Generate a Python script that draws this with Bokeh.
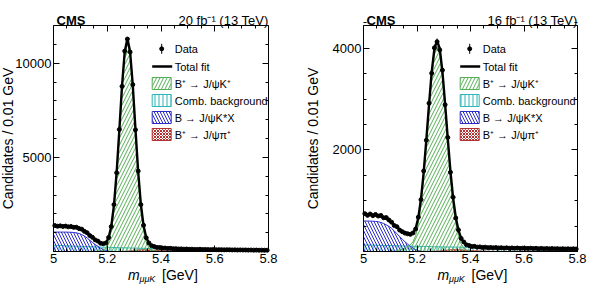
import math

from bokeh.core.properties import value
from bokeh.embed import file_html
from bokeh.layouts import row
from bokeh.models import CustomJSTickFormatter, FixedTicker, LinearAxis, Range1d
from bokeh.plotting import figure
from bokeh.resources import INLINE

# ---------------------------------------------------------------------------
# Binning: m(mu mu K) from 5.0 to 5.8 GeV in 0.01 GeV bins
# ---------------------------------------------------------------------------
MASS_LO, MASS_HI, BIN_W, N_BINS = 5.0, 5.8, 0.01, 80
centers = [MASS_LO + BIN_W * (i + 0.5) for i in range(N_BINS)]

x_ticks = [5.0, 5.2, 5.4, 5.6, 5.8]
x_minor = [5.05, 5.1, 5.15, 5.25, 5.3, 5.35, 5.45, 5.5, 5.55, 5.65, 5.7, 5.75]

legend_labels = ["Data", "Total fit", "B\u207a \u2192 J/\u03c8K\u207a", "Comb. background",
                 "B   \u2192 J/\u03c8K*X", "B\u207a \u2192 J/\u03c8\u03c0\u207a"]
y_title = "Candidates / 0.01 GeV"

# ---------------------------------------------------------------------------
# 2016-like sample (20 fb-1): candidates per bin
# ---------------------------------------------------------------------------
lumi_a = "20 fb\u207b\u00b9 (13 TeV)"
data_a = [
    1378, 1342, 1361, 1330, 1349, 1309, 1327, 1281, 1288, 1219,
    1185, 1070, 997, 846, 752, 617, 552, 441, 412, 452,
    741, 1322, 2490, 4180, 6480, 8770, 10640, 11280, 10590, 8860,
    6460, 4270, 2490, 1395, 731, 452, 307, 262, 219, 211,
    184, 183, 162, 167, 147, 151, 134, 139, 125, 131,
    117, 122, 111, 109, 117, 104, 108, 101, 99, 106,
    94, 97, 95, 88, 93, 91, 84, 87, 80, 85,
    78, 81, 74, 79, 72, 75, 68, 72, 66, 69,
]
comb_a = [
    330, 323, 317, 311, 304, 298, 292, 286, 281, 275,
    270, 264, 259, 254, 249, 244, 239, 234, 229, 225,
    220, 216, 212, 207, 203, 199, 195, 191, 188, 184,
    180, 177, 173, 170, 166, 163, 160, 156, 153, 150,
    147, 144, 141, 139, 136, 133, 130, 128, 125, 123,
    120, 118, 115, 113, 111, 109, 106, 104, 102, 100,
    98, 96, 94, 92, 91, 89, 87, 85, 84, 82,
    80, 79, 77, 76, 74, 73, 71, 70, 68, 67,
]
kstar_a = [
    1030, 1030, 1030, 1030, 1028, 1025, 1020, 1010, 990, 955,
    900, 820, 720, 600, 480, 370, 280, 180, 100, 45,
    15, 5, 1, 0, 0, 0, 0, 0, 0, 0,
    0, 0, 0, 0, 0, 0, 0, 0, 0, 0,
    0, 0, 0, 0, 0, 0, 0, 0, 0, 0,
    0, 0, 0, 0, 0, 0, 0, 0, 0, 0,
    0, 0, 0, 0, 0, 0, 0, 0, 0, 0,
    0, 0, 0, 0, 0, 0, 0, 0, 0, 0,
]
pi_a = [
    0, 0, 0, 0, 0, 0, 0, 0, 0, 0,
    0, 0, 0, 0, 0, 0, 0, 0, 0, 0,
    0, 0, 0, 0, 0, 5, 10, 18, 30, 45,
    60, 75, 85, 90, 88, 82, 74, 65, 56, 48,
    40, 33, 27, 22, 17, 13, 10, 7, 5, 3,
    2, 0, 0, 0, 0, 0, 0, 0, 0, 0,
    0, 0, 0, 0, 0, 0, 0, 0, 0, 0,
    0, 0, 0, 0, 0, 0, 0, 0, 0, 0,
]
sig_a = [
    0, 0, 0, 0, 0, 0, 0, 0, 0, 0,
    0, 0, 5, 7, 10, 15, 22, 35, 75, 190,
    490, 1120, 2250, 4000, 6250, 8600, 10400, 11100, 10400, 8600,
    6250, 4000, 2250, 1120, 490, 200, 80, 35, 16, 8,
    4, 2, 0, 0, 0, 0, 0, 0, 0, 0,
    0, 0, 0, 0, 0, 0, 0, 0, 0, 0,
    0, 0, 0, 0, 0, 0, 0, 0, 0, 0,
    0, 0, 0, 0, 0, 0, 0, 0, 0, 0,
]
y_ticks_a = [5000, 10000]
y_minor_a = [1000, 2000, 3000, 4000, 6000, 7000, 8000, 9000, 11000]

# ---------------------------------------------------------------------------
# 2017-like sample (16 fb-1): candidates per bin
# ---------------------------------------------------------------------------
lumi_b = "16 fb\u207b\u00b9 (13 TeV)"
data_b = [
    745, 712, 738, 706, 729, 698, 711, 664, 668, 620,
    578, 512, 488, 421, 391, 362, 349, 338, 366, 443,
    676, 1021, 1585, 2190, 2920, 3510, 4010, 4130, 3970, 3570,
    2890, 2245, 1560, 1068, 660, 425, 258, 187, 131, 118,
    99, 101, 86, 91, 80, 85, 76, 79, 72, 78,
    69, 74, 66, 72, 64, 70, 63, 69, 61, 66,
    62, 60, 65, 57, 63, 55, 61, 54, 59, 53,
    58, 52, 56, 50, 55, 49, 53, 48, 52, 49,
]
comb_b = [
    130, 128, 127, 125, 124, 122, 121, 119, 118, 117,
    115, 114, 112, 111, 110, 108, 107, 106, 104, 103,
    102, 101, 99, 98, 97, 96, 94, 93, 92, 91,
    90, 89, 88, 87, 86, 85, 84, 83, 82, 81,
    80, 79, 78, 77, 76, 75, 74, 73, 72, 72,
    71, 70, 69, 68, 67, 67, 66, 65, 64, 63,
    63, 62, 61, 60, 60, 59, 58, 57, 57, 56,
    55, 55, 54, 53, 53, 52, 51, 51, 50, 50,
]
kstar_b = [
    600, 600, 598, 596, 592, 585, 572, 552, 526, 494,
    456, 405, 350, 295, 242, 192, 146, 104, 68, 38,
    17, 6, 1, 0, 0, 0, 0, 0, 0, 0,
    0, 0, 0, 0, 0, 0, 0, 0, 0, 0,
    0, 0, 0, 0, 0, 0, 0, 0, 0, 0,
    0, 0, 0, 0, 0, 0, 0, 0, 0, 0,
    0, 0, 0, 0, 0, 0, 0, 0, 0, 0,
    0, 0, 0, 0, 0, 0, 0, 0, 0, 0,
]
pi_b = [
    0, 0, 0, 0, 0, 0, 0, 0, 0, 0,
    0, 0, 0, 0, 0, 0, 0, 0, 0, 0,
    0, 0, 0, 0, 0, 2, 4, 7, 11, 16,
    22, 28, 33, 35, 35, 33, 30, 27, 24, 21,
    18, 15, 12, 10, 8, 6, 5, 4, 3, 2,
    1, 0, 0, 0, 0, 0, 0, 0, 0, 0,
    0, 0, 0, 0, 0, 0, 0, 0, 0, 0,
    0, 0, 0, 0, 0, 0, 0, 0, 0, 0,
]
sig_b = [
    0, 0, 0, 0, 0, 0, 0, 0, 0, 0,
    0, 0, 20, 30, 45, 70, 100, 135, 190, 310,
    550, 930, 1460, 2110, 2800, 3440, 3890, 4050, 3890, 3440,
    2800, 2110, 1460, 930, 550, 300, 150, 70, 30, 12,
    5, 2, 0, 0, 0, 0, 0, 0, 0, 0,
    0, 0, 0, 0, 0, 0, 0, 0, 0, 0,
    0, 0, 0, 0, 0, 0, 0, 0, 0, 0,
    0, 0, 0, 0, 0, 0, 0, 0, 0, 0,
]
y_ticks_b = [2000, 4000]
y_minor_b = [500, 1000, 1500, 2500, 3000, 3500, 4500]

# ---------------------------------------------------------------------------
# Styling and page geometry
# ---------------------------------------------------------------------------
FONT = "Liberation Sans"
PAGE_H = 285
BOX_TOP, BOX_H = 25, 226
GREEN, CYAN, BLUE, RED = "#55ad55", "#2cb6b6", "#2b2bc8", "#b3302e"
components_style = [
    # (colour, hatch pattern, hatch spacing, hatch weight)
    (CYAN, "vertical_line", 4, 1.0),
    (BLUE, "left_diagonal_line", 6, 1.0),
    (RED, "diagonal_cross", 3, 1.0),
    (GREEN, "right_diagonal_line", 7, 1.0),
]
legend_style = [components_style[3], components_style[0], components_style[1], components_style[2]]


def style_axis(ax, ticks, minor, labels):
    ax.ticker = FixedTicker(ticks=ticks, minor_ticks=minor)
    ax.axis_line_color = "black"
    ax.axis_line_width = 1
    ax.major_tick_line_color = "black"
    ax.minor_tick_line_color = "black"
    ax.major_tick_in, ax.major_tick_out = 6, 0
    ax.minor_tick_in, ax.minor_tick_out = 3, 0
    if labels:
        ax.major_label_text_font = FONT
        ax.major_label_text_font_size = "13px"
        ax.major_label_text_color = "black"
        ax.major_label_standoff = 2
    else:
        ax.major_label_text_font_size = "0px"
        ax.major_label_standoff = 0
        ax.formatter = CustomJSTickFormatter(code="return ''")


def make_panel(data, comb, kstar, pi, sig, y_max, y_ticks, y_minor, lumi,
               width, box_left, box_w, legend_dx, ytitle_x):
    # the plotting box sits at a fixed place on the canvas; ranges are widened so that
    # [MASS_LO, MASS_HI] x [0, y_max] lands exactly on it
    xs = (MASS_HI - MASS_LO) / box_w
    ys = y_max / BOX_H
    box_bottom = PAGE_H - BOX_TOP - BOX_H
    x_range = Range1d(MASS_LO - box_left * xs, MASS_HI + (width - box_left - box_w) * xs)
    y_range = Range1d(0 - box_bottom * ys, y_max + BOX_TOP * ys)

    p = figure(width=width, height=PAGE_H, x_range=x_range, y_range=y_range,
               x_axis_type=None, y_axis_type=None, min_border=0,
               output_backend="svg", toolbar_location=None)
    p.outline_line_color = None
    p.background_fill_color = "white"
    p.border_fill_color = "white"

    def px(u):  # pixels from the canvas' left edge -> data x
        return x_range.start + u * xs

    def py(v):  # pixels from the canvas' top edge -> data y
        return y_range.end - v * ys

    # axes pinned to the box edges
    bottom = LinearAxis(fixed_location=0, bounds=(MASS_LO, MASS_HI))
    style_axis(bottom, x_ticks, x_minor, True)
    bottom.formatter = CustomJSTickFormatter(code="return String(Math.round(tick * 10) / 10)")
    left = LinearAxis(fixed_location=MASS_LO, bounds=(0, y_max))
    style_axis(left, y_ticks, y_minor, True)
    left.formatter = CustomJSTickFormatter(code="return tick.toFixed(0)")
    top = LinearAxis(fixed_location=y_max, bounds=(MASS_LO, MASS_HI))
    style_axis(top, x_ticks, x_minor, False)
    right = LinearAxis(fixed_location=MASS_HI, bounds=(0, y_max))
    style_axis(right, y_ticks, y_minor, False)
    p.add_layout(bottom, "below")
    p.add_layout(left, "left")
    p.add_layout(top, "above")
    p.add_layout(right, "right")

    # fit components, each drawn from zero as a hatched area
    edge_x = [MASS_LO, MASS_LO] + centers + [MASS_HI, MASS_HI]
    for vals, (col, pat, scale, weight) in zip([comb, kstar, pi, sig], components_style):
        edge_y = [0, vals[0]] + list(vals) + [vals[-1], 0]
        p.patch(edge_x, edge_y, fill_color=None, line_color=col, line_width=1,
                hatch_pattern=pat, hatch_color=col, hatch_scale=scale, hatch_weight=weight)

    total = [c + k + q + s for c, k, q, s in zip(comb, kstar, pi, sig)]
    p.line([MASS_LO] + centers + [MASS_HI], [total[0]] + total + [total[-1]],
           line_color="black", line_width=2.4)

    err = [math.sqrt(v) for v in data]
    p.segment(centers, [v - e for v, e in zip(data, err)], centers, [v + e for v, e in zip(data, err)],
              line_color="black", line_width=1)
    p.scatter(centers, data, size=4, marker="circle", fill_color="black", line_color="black")

    def put_text(u, v, txt, size, style="normal", align="left", baseline="alphabetic", angle=0.0):
        p.text(x=[px(u)], y=[py(v)], text=[txt], angle=angle,
               text_font=value(FONT), text_font_size=value(size),
               text_font_style=value(style), text_align=value(align),
               text_baseline=value(baseline), text_color=value("black"))

    # legend (pixel offsets from the box's top-left corner)
    lx = box_left + legend_dx
    mx = lx + 9.5
    p.segment([px(mx)], [py(BOX_TOP + 18.3)], [px(mx)], [py(BOX_TOP + 28.3)],
              line_color="black", line_width=1)
    p.scatter([px(mx)], [py(BOX_TOP + 23.3)], size=4, marker="circle",
              fill_color="black", line_color="black")
    p.segment([px(lx)], [py(BOX_TOP + 41)], [px(lx + 20)], [py(BOX_TOP + 41)],
              line_color="black", line_width=2.4)
    rows_y = [23.3, 41, 58, 75, 92, 109]
    for ry, (col, pat, scale, weight) in zip(rows_y[2:], legend_style):
        p.rect([px(mx)], [py(BOX_TOP + ry)], width=19, height=12,
               width_units="screen", height_units="screen",
               fill_color=None, line_color=col, line_width=1,
               hatch_pattern=pat, hatch_color=col, hatch_scale=scale, hatch_weight=weight)
    for ry, txt in zip(rows_y, legend_labels):
        put_text(lx + 22.5, BOX_TOP + ry, txt, "11px", baseline="middle")

    # header above the box
    put_text(box_left + 3, 19.5, "CMS", "13px", style="bold")
    put_text(box_left + box_w, 19.5, lumi, "13px", align="right")

    # axis titles
    xc = box_left + box_w / 2
    put_text(xc - 33, 274, "m", "14px", style="italic")
    put_text(xc - 21.5, 278, "\u03bc\u03bcK", "9px", style="italic")
    put_text(xc + 1, 274, "[GeV]", "14px")
    put_text(ytitle_x, BOX_TOP + BOX_H / 2, y_title, "14px", align="center",
             baseline="middle", angle=math.pi / 2)
    return p


p1 = make_panel(data_a, comb_a, kstar_a, pi_a, sig_a, 12000, y_ticks_a, y_minor_a, lumi_a,
                width=294, box_left=53, box_w=215, legend_dx=98.7, ytitle_x=7)
p2 = make_panel(data_b, comb_b, kstar_b, pi_b, sig_b, 4450, y_ticks_b, y_minor_b, lumi_b,
                width=295, box_left=69, box_w=214, legend_dx=96.7, ytitle_x=18)

layout = row(p1, p2, spacing=0)
with open("out.html", "w") as f:
    f.write(file_html(layout, INLINE))
